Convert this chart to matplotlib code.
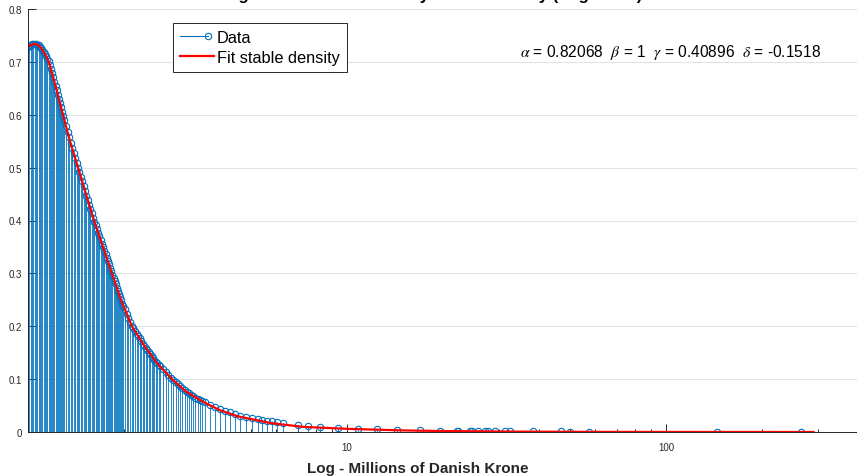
import matplotlib
matplotlib.use("Agg")
import matplotlib.pyplot as plt
from matplotlib.lines import Line2D
from matplotlib.legend_handler import HandlerBase
from matplotlib.ticker import FixedLocator, NullFormatter, FixedFormatter

plt.rcParams['font.family'] = ['Liberation Sans', 'DejaVu Sans']
plt.rcParams['mathtext.fontset'] = 'stix'

# ---- data -------------------------------------------------------------
title_text = "Fitting Danish Fire Losses by Stable Density (Log Scale)"
x_label = "Log - Millions of Danish Krone"
legend_labels = ["Data", "Fit stable density"]

alpha_, beta_, gamma_, delta_ = 0.82068, 1, 0.40896, -0.1518

# observed losses (millions DKK) and their density values
stem_x = [
    1.00, 1.01, 1.02, 1.03, 1.04, 1.05, 1.06, 1.07, 1.08, 1.09,
    1.10, 1.11, 1.12, 1.13, 1.14, 1.15, 1.16, 1.17, 1.18, 1.19,
    1.20, 1.21, 1.22, 1.23, 1.24, 1.25, 1.26, 1.27, 1.28, 1.29,
    1.300, 1.315, 1.330, 1.345, 1.360, 1.375, 1.390, 1.405, 1.420, 1.435,
    1.450, 1.465, 1.480, 1.495, 1.510, 1.525, 1.540, 1.555, 1.570, 1.585,
    1.600, 1.615, 1.630, 1.645, 1.660, 1.675, 1.690, 1.705, 1.720, 1.735,
    1.750, 1.765, 1.780, 1.795, 1.810, 1.825, 1.840, 1.855, 1.870, 1.885,
    1.900, 1.915, 1.930, 1.945, 1.960, 1.975, 1.990,
    2.015, 2.040, 2.065, 2.090, 2.115, 2.140, 2.165, 2.190, 2.215, 2.240,
    2.265, 2.290, 2.315, 2.340, 2.365, 2.390, 2.415, 2.440, 2.465, 2.490,
    2.515, 2.540, 2.565, 2.590,
    2.65, 2.70, 2.75, 2.80, 2.85, 2.90, 2.95, 3.00, 3.05, 3.10,
    3.15, 3.20, 3.25, 3.30, 3.35, 3.40, 3.45, 3.50,
    3.59, 3.72, 3.85, 4.00, 4.14, 4.29, 4.46, 4.62, 4.82, 5.04,
    5.26, 5.42, 5.61, 5.81, 6.03, 6.30, 7.02, 7.55, 8.23, 9.37,
    10.83, 12.42, 14.35, 16.94, 19.56, 22.12, 22.28, 24.30, 24.65, 25.75,
    27.08, 27.67, 29.10, 31.28, 32.43, 38.30, 46.87, 50.02, 57.36, 144.5,
    265.0,
]
stem_y = [
    0.728, 0.730, 0.732, 0.733, 0.734, 0.734, 0.733, 0.732, 0.731, 0.729,
    0.726, 0.722, 0.719, 0.715, 0.711, 0.706, 0.701, 0.695, 0.687, 0.679,
    0.671, 0.662, 0.654, 0.646, 0.638, 0.630, 0.622, 0.614, 0.606, 0.598,
    0.590, 0.579, 0.568, 0.557, 0.546, 0.537, 0.528, 0.518, 0.509, 0.500,
    0.491, 0.482, 0.474, 0.465, 0.456, 0.447, 0.439, 0.430, 0.422, 0.414,
    0.405, 0.398, 0.391, 0.384, 0.377, 0.370, 0.363, 0.356, 0.349, 0.343,
    0.336, 0.330, 0.323, 0.317, 0.310, 0.304, 0.297, 0.291, 0.285, 0.279,
    0.273, 0.267, 0.261, 0.255, 0.249, 0.243, 0.238,
    0.232, 0.224, 0.216, 0.208, 0.200, 0.196, 0.191, 0.186, 0.182, 0.177,
    0.172, 0.167, 0.163, 0.159, 0.155, 0.151, 0.147, 0.144, 0.140, 0.137,
    0.133, 0.130, 0.127, 0.124,
    0.119, 0.114, 0.108, 0.103, 0.098, 0.094, 0.090, 0.087, 0.083, 0.079,
    0.076, 0.073, 0.070, 0.068, 0.065, 0.063, 0.061, 0.059,
    0.056, 0.051, 0.048, 0.044, 0.040, 0.037, 0.034, 0.031, 0.029, 0.026,
    0.024, 0.023, 0.021, 0.020, 0.019, 0.017, 0.013, 0.011, 0.0095, 0.0075,
    0.0060, 0.0050, 0.0040, 0.0033, 0.0028, 0.0022, 0.0022, 0.0020, 0.0019, 0.0018,
    0.0017, 0.0017, 0.0016, 0.0015, 0.0014, 0.0012, 0.0010, 0.0009, 0.0008, 0.0003,
    0.0002,
]

# fitted stable density
fit_x = [1.000, 1.022, 1.044, 1.067, 1.090, 1.114, 1.139, 1.164, 1.224, 1.287,
         1.354, 1.435, 1.520, 1.610, 1.718, 1.833, 1.956, 2.117, 2.311, 2.537,
         2.828, 3.12, 3.54, 4.00, 4.52, 5.74, 7.28, 10.0, 15.0, 20.0,
         30.0, 50.0, 100.0, 200.0, 290.0]
fit_y = [0.728, 0.732, 0.734, 0.733, 0.729, 0.721, 0.711, 0.699, 0.651, 0.600,
         0.550, 0.500, 0.450, 0.400, 0.350, 0.300, 0.250, 0.200, 0.164, 0.130,
         0.100, 0.077, 0.057, 0.041, 0.030, 0.017, 0.0097, 0.0060, 0.0030, 0.0018,
         0.0009, 0.00035, 0.0001, 0.00003, 0.000015]

y_ticks = [0, 0.1, 0.2, 0.3, 0.4, 0.5, 0.6, 0.7, 0.8]
x_major = [10, 100]
x_minor = [2, 3, 4, 5, 6, 7, 8, 9, 20, 30, 40, 50, 60, 70, 80, 90, 200, 300]

# ---- styling ----------------------------------------------------------
BLUE = '#0072BD'
AXC = '#262626'
W, H = 857, 477
MS = 4.6

fig = plt.figure(figsize=(W / 100, H / 100), dpi=100)
ax = fig.add_axes([28 / W, 44 / H, 829 / W, 423 / H])

ax.set_xscale('log')
ax.set_xlim(1.0, 396.9)
ax.set_ylim(0, 0.8)

ax.grid(axis='y', color='#e3e3e3', lw=0.8, zorder=0)
ax.set_axisbelow(True)

markerline, stemlines, baseline = ax.stem(stem_x, stem_y, basefmt=' ')
stemlines.set_color(BLUE)
stemlines.set_linewidth(0.6)
stemlines.set_zorder(2)
markerline.set_marker('o')
markerline.set_markerfacecolor('none')
markerline.set_markeredgecolor(BLUE)
markerline.set_markersize(MS)
markerline.set_markeredgewidth(0.8)
markerline.set_zorder(3)

ax.plot(fit_x, fit_y, color='red', lw=1.6, zorder=4)

for s in ('top', 'right'):
    ax.spines[s].set_visible(False)
for s in ('left', 'bottom'):
    ax.spines[s].set_color(AXC)
    ax.spines[s].set_linewidth(0.7)
    ax.spines[s].set_zorder(5)

ax.yaxis.set_major_locator(FixedLocator(y_ticks))
ax.set_yticklabels([f"{v:g}" for v in y_ticks])
ax.xaxis.set_major_locator(FixedLocator(x_major))
ax.xaxis.set_major_formatter(FixedFormatter([str(v) for v in x_major]))
ax.xaxis.set_minor_locator(FixedLocator(x_minor))
ax.xaxis.set_minor_formatter(NullFormatter())

ax.tick_params(axis='both', which='major', direction='in', length=6,
               width=0.7, color=AXC, labelsize=7, labelcolor=AXC)
ax.tick_params(axis='y', which='major', pad=4)
ax.tick_params(axis='x', which='major', pad=7)
ax.tick_params(axis='x', which='minor', direction='in', length=2.5,
               width=0.7, color=AXC)

ax.set_xlabel(x_label, fontsize=11, fontweight='bold', color=AXC)
ax.xaxis.set_label_coords((418 - 28) / 829, -0.068)


class StemLegendHandler(HandlerBase):
    """Legend entry drawn like a stem: a line ending in an open circle."""

    def create_artists(self, legend, orig_handle, xdescent, ydescent,
                       width, height, fontsize, trans):
        y = (height - ydescent) / 2
        x0 = -xdescent
        xm = x0 + 0.82 * width
        line = Line2D([x0, xm], [y, y], color=BLUE, lw=0.8, transform=trans)
        mk = Line2D([xm], [y], marker='o', markersize=MS, markerfacecolor='none',
                    markeredgecolor=BLUE, markeredgewidth=0.8, transform=trans)
        return [line, mk]


data_proxy = Line2D([], [], color=BLUE)
fit_proxy = Line2D([], [], color='red', lw=1.6)
leg = ax.legend([data_proxy, fit_proxy], legend_labels,
                handler_map={data_proxy: StemLegendHandler()},
                loc='upper left', bbox_to_anchor=(173 / W, 1 - 24 / H),
                bbox_transform=fig.transFigure, borderaxespad=0,
                fontsize=11.8, frameon=True, fancybox=False, framealpha=1,
                edgecolor=AXC, handlelength=2.1, handletextpad=0.15,
                borderpad=0.42, labelspacing=0.3)
leg.get_frame().set_linewidth(0.7)
leg.set_zorder(10)

params = (rf"$\alpha$ = {alpha_:g}  $\beta$ = {beta_:g}  "
          rf"$\gamma$ = {gamma_:g}  $\delta$ = {delta_:g}")
fig.text(520 / W, 1 - 52 / H, params, fontsize=11.2, color='black', va='center')

fig.text(420 / W, 1.0, title_text, fontsize=12, fontweight='bold',
         color='black', ha='center', va='baseline')

fig.savefig('out.png', dpi=100)
